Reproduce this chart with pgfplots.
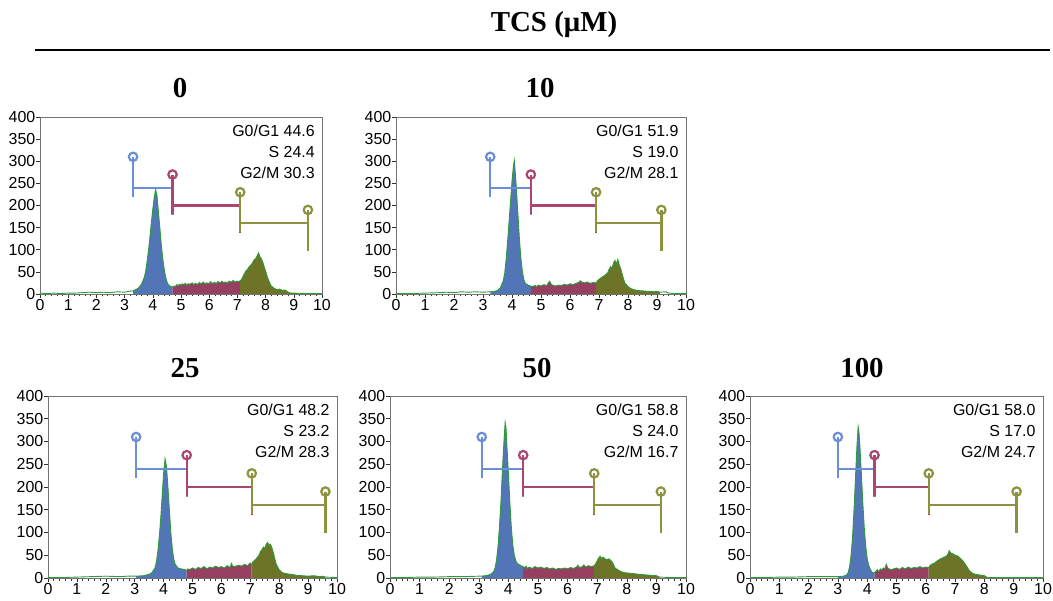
\documentclass[border=0pt]{standalone}
\usepackage{fontspec}
\setmainfont{Liberation Sans}
\newfontfamily\titlefont{Liberation Serif}
\usepackage{pgfplots}
\usepackage{pgfplotstable}
\pgfplotsset{compat=1.18}

\definecolor{fblue}{HTML}{5275B7}
\definecolor{gblue}{HTML}{6B8FD6}
\definecolor{fred}{HTML}{973F61}
\definecolor{gred}{HTML}{AA4670}
\definecolor{folive}{HTML}{6D7327}
\definecolor{golive}{HTML}{8D923F}
\definecolor{hgreen}{HTML}{2F9A3A}

\pgfplotstableread{
x y
0 2
0.25 1
0.5 2
0.75 1
1.0 2
1.25 2
1.5 3
1.75 4
2.0 3
2.25 4
2.5 3
2.75 5
3.0 4
3.15 6
3.3 7
3.4 10
3.5 14
3.6 22
3.7 38
3.75 52
3.8 75
3.85 100
3.9 130
3.95 162
4.0 192
4.05 218
4.1 236
4.15 222
4.2 185
4.25 150
4.3 112
4.35 82
4.4 58
4.45 40
4.5 28
4.55 21
4.6 18
4.65 17
4.7 16
4.75 18
4.8 17
4.85 21
4.9 19
4.95 22
5.0 20
5.05 23
5.1 21
5.15 24
5.2 20
5.25 23
5.3 22
5.4 25
5.45 21
5.5 24
5.6 22
5.65 26
5.7 23
5.8 27
5.85 22
5.9 25
6.0 24
6.05 28
6.1 24
6.2 26
6.25 23
6.3 28
6.4 25
6.45 29
6.5 26
6.6 27
6.65 24
6.7 29
6.8 27
6.85 31
6.9 27
7.0 29
7.05 28
7.1 30
7.15 33
7.2 40
7.25 46
7.3 52
7.35 55
7.4 60
7.45 64
7.5 67
7.55 72
7.6 78
7.65 80
7.7 86
7.75 93
7.8 84
7.85 80
7.9 72
7.95 62
8.0 52
8.05 41
8.1 32
8.15 25
8.2 18
8.3 13
8.4 10
8.5 11
8.6 8
8.7 9
8.8 4
8.9 2
9.0 2
9.5 1
10 1
}\dataA

\pgfplotstableread{
x y
0 1
0.5 1
1.0 2
1.5 3
1.75 4
2.0 3
2.25 5
2.5 4
2.75 5
3.0 4
3.25 5
3.4 6
3.5 8
3.6 14
3.7 30
3.75 48
3.8 80
3.85 120
3.9 165
3.95 210
4.0 255
4.05 290
4.08 302
4.1 285
4.15 240
4.2 185
4.25 130
4.3 85
4.35 55
4.4 35
4.45 25
4.5 22
4.55 20
4.6 19
4.65 18
4.7 17
4.8 19
4.85 16
4.9 20
5.0 18
5.1 21
5.2 19
5.25 25
5.3 29
5.35 22
5.4 20
5.5 18
5.6 20
5.7 19
5.8 22
5.9 20
6.0 23
6.1 21
6.2 24
6.3 26
6.35 30
6.4 27
6.5 25
6.6 27
6.7 24
6.8 26
6.9 25
6.95 30
7.0 33
7.1 38
7.2 42
7.3 48
7.35 56
7.4 62
7.45 58
7.5 70
7.55 76
7.6 68
7.65 78
7.7 65
7.75 57
7.8 45
7.85 33
7.9 24
8.0 17
8.1 12
8.2 10
8.3 8
8.5 7
8.7 6
8.9 5
9.0 6
9.1 4
9.3 5
9.4 2
9.6 1
10 1
}\dataB

\pgfplotstableread{
x y
0 1
0.5 1
1.0 2
1.5 3
2.0 4
2.5 3
2.75 4
3.0 4
3.05 4
3.3 5
3.5 8
3.6 12
3.7 22
3.75 35
3.8 58
3.85 90
3.9 130
3.95 180
4.0 230
4.05 262
4.1 245
4.15 200
4.2 150
4.25 100
4.3 65
4.35 42
4.4 30
4.5 22
4.6 20
4.7 19
4.8 17
4.85 20
4.9 18
5.0 22
5.1 19
5.2 23
5.3 21
5.4 25
5.5 20
5.6 24
5.7 22
5.8 26
5.9 23
6.0 25
6.1 22
6.2 27
6.3 23
6.35 32
6.4 25
6.5 26
6.6 28
6.7 26
6.8 30
6.9 27
7.0 33
7.05 30
7.1 36
7.2 42
7.3 50
7.35 58
7.4 62
7.45 68
7.5 65
7.55 74
7.6 78
7.65 72
7.7 74
7.75 66
7.8 55
7.85 42
7.9 30
8.0 18
8.1 12
8.2 10
8.4 8
8.6 6
8.8 5
9.0 4
9.2 5
9.4 3
9.5 4
9.6 2
10 1
}\dataC

\pgfplotstableread{
x y
0 1
0.5 1
1.0 2
1.5 2
2.0 3
2.5 3
3.0 4
3.1 4
3.3 6
3.4 8
3.5 14
3.55 22
3.6 40
3.65 70
3.7 115
3.75 170
3.8 240
3.85 300
3.89 342
3.92 330
3.95 290
4.0 230
4.05 165
4.1 110
4.15 72
4.2 50
4.25 38
4.3 32
4.35 30
4.4 28
4.45 26
4.5 25
4.55 22
4.6 26
4.65 20
4.7 24
4.8 21
4.9 25
5.0 22
5.1 24
5.2 21
5.3 23
5.4 20
5.5 22
5.6 19
5.7 21
5.8 20
5.9 22
6.0 20
6.1 23
6.2 21
6.3 24
6.35 28
6.4 23
6.5 25
6.55 29
6.6 24
6.7 27
6.8 25
6.9 27
6.95 32
7.0 38
7.05 44
7.1 48
7.15 42
7.2 46
7.3 40
7.4 42
7.5 36
7.55 30
7.6 22
7.7 18
7.8 14
7.9 12
8.0 11
8.2 10
8.4 8
8.6 7
8.8 6
9.0 5
9.1 2
9.5 1
10 1
}\dataD

\pgfplotstableread{
x y
0 1
0.5 1
1.0 2
1.5 2
2.0 3
2.5 3
3.0 3
3.2 4
3.3 7
3.35 12
3.4 25
3.45 50
3.5 90
3.55 150
3.6 220
3.65 290
3.69 332
3.72 320
3.75 290
3.8 230
3.85 165
3.9 110
3.95 70
4.0 42
4.05 28
4.1 20
4.15 14
4.2 11
4.25 12
4.3 15
4.35 18
4.4 14
4.45 20
4.5 18
4.55 22
4.6 20
4.65 30
4.7 22
4.8 18
4.9 20
5.0 22
5.1 19
5.2 23
5.3 20
5.4 24
5.5 21
5.6 23
5.7 22
5.8 25
5.9 22
6.0 24
6.1 23
6.15 28
6.2 30
6.3 33
6.4 38
6.5 42
6.6 45
6.7 48
6.75 52
6.8 60
6.85 55
6.9 54
7.0 50
7.1 48
7.2 42
7.3 35
7.4 25
7.5 15
7.6 10
7.7 8
7.8 7
7.9 6
8.0 5
8.1 1
9.0 1
10 1
}\dataE

\pgfplotsset{
  panel/.style={
    scale only axis, anchor=south west,
    xmin=0, xmax=10, ymin=0, ymax=400,
    xtick={0,1,...,10}, ytick={0,50,...,400},
    minor x tick num=4,
    tick align=outside, tick pos=left,
    major tick length=4bp, minor tick length=2.5bp,
    axis line style={black!55},
    tick style={black!80, line width=0.6bp},
    ticklabel style={font=\fontsize{16}{18}\selectfont},
    yticklabel style={inner sep=0.5bp},
    xticklabel style={inner sep=1.5bp},
    /pgf/number format/assume math mode=true,
    clip=false,
  },
  gate/.style={line width=2.3bp, mark=none},
  ring/.style={line width=2.2bp, only marks, mark=o, mark size=4.2bp,
    mark options={fill=white}},
}

% histogram with three filled gates: blue a..b, red b..c, olive c..d
\newcommand{\hist}[5]{%
  \addplot[fill=fblue, draw=none, restrict x to domain=#2:#3] table {#1} \closedcycle;
  \addplot[fill=fred, draw=none, restrict x to domain=#3:#4] table {#1} \closedcycle;
  \addplot[fill=folive, draw=none, restrict x to domain=#4:#5] table {#1} \closedcycle;
  \addplot[hgreen, line width=0.9bp] table {#1};
  \addplot[gate, gblue] coordinates {(#2,220) (#2,310)};
  \addplot[gate, gblue] coordinates {(#2,240) (#3,240)};
  \addplot[gate, gblue] coordinates {(#3,178) (#3,270)};
  \addplot[ring, gblue] coordinates {(#2,310)};
  \addplot[gate, gred] coordinates {(#3,180) (#3,270)};
  \addplot[gate, gred] coordinates {(#3,200) (#4,200)};
  \addplot[gate, gred] coordinates {(#4,138) (#4,230)};
  \addplot[ring, gred] coordinates {(#3,270)};
  \addplot[gate, golive] coordinates {(#4,140) (#4,230)};
  \addplot[gate, golive] coordinates {(#4,160) (#5,160)};
  \addplot[gate, golive] coordinates {(#5,98) (#5,190)};
  \addplot[ring, golive] coordinates {(#4,230) (#5,190)};
}
\newcommand{\stats}[3]{%
  \node[anchor=north east, align=right, inner sep=0pt,
    font=\fontsize{16}{21}\selectfont]
    at (rel axis cs:0.975,0.955) {G0/G1 #1\\S #2\\G2/M #3};
}

\begin{document}
\begin{tikzpicture}
\useasboundingbox (0bp,0bp) rectangle (1053bp,601bp);

\node[anchor=base, font=\titlefont\bfseries\fontsize{29}{32}\selectfont]
  at (554bp,569bp) {TCS (μM)};
\draw[line width=2bp] (35bp,551bp) -- (1050bp,551bp);

\node[anchor=base, font=\titlefont\bfseries\fontsize{29}{32}\selectfont] at (180bp,503bp) {0};
\node[anchor=base, font=\titlefont\bfseries\fontsize{29}{32}\selectfont] at (540bp,503bp) {10};
\node[anchor=base, font=\titlefont\bfseries\fontsize{29}{32}\selectfont] at (185bp,223bp) {25};
\node[anchor=base, font=\titlefont\bfseries\fontsize{29}{32}\selectfont] at (537bp,223bp) {50};
\node[anchor=base, font=\titlefont\bfseries\fontsize{29}{32}\selectfont] at (862bp,223bp) {100};

\begin{axis}[panel, at={(40bp,307bp)}, width=282bp, height=177bp]
  \hist{\dataA}{3.3}{4.7}{7.1}{9.5}
  \stats{44.6}{24.4}{30.3}
\end{axis}

\begin{axis}[panel, at={(396bp,307bp)}, width=290bp, height=177bp]
  \hist{\dataB}{3.25}{4.65}{6.9}{9.15}
  \stats{51.9}{19.0}{28.1}
\end{axis}

\begin{axis}[panel, at={(48bp,23bp)}, width=289bp, height=182bp]
  \hist{\dataC}{3.05}{4.8}{7.05}{9.6}
  \stats{48.2}{23.2}{28.3}
\end{axis}

\begin{axis}[panel, at={(390bp,23bp)}, width=296bp, height=182bp]
  \hist{\dataD}{3.1}{4.5}{6.9}{9.15}
  \stats{58.8}{24.0}{16.7}
\end{axis}

\begin{axis}[panel, at={(750bp,23bp)}, width=293bp, height=182bp]
  \hist{\dataE}{3.0}{4.25}{6.1}{9.1}
  \stats{58.0}{17.0}{24.7}
\end{axis}
\end{tikzpicture}
\end{document}
